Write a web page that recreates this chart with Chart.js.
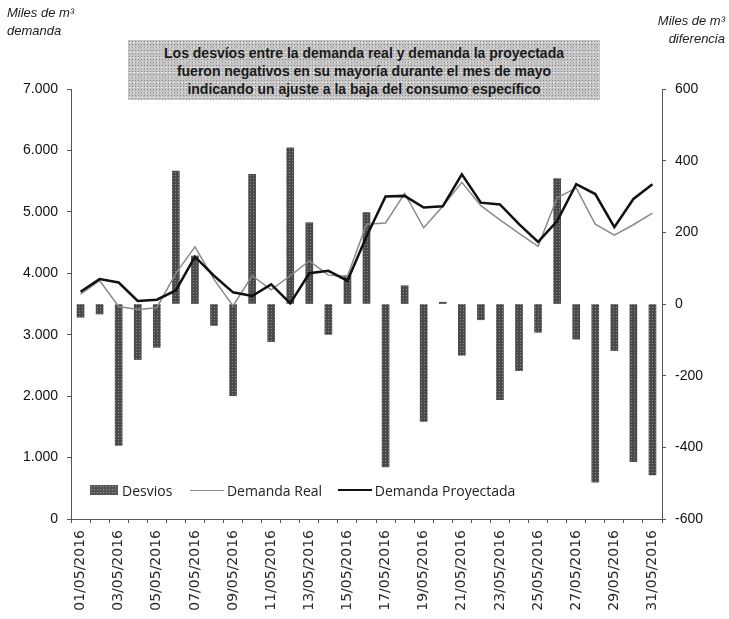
<!DOCTYPE html>
<html>
<head>
<meta charset="utf-8">
<script src="https://cdn.jsdelivr.net/npm/chart.js@4"></script>
<style>
  body { margin: 0; background: #fff; }
  #wrap { position: relative; width: 729px; height: 619px; font-family: "Liberation Sans", Arial, sans-serif; }
  #chart { position: absolute; left: 0; top: 0; }
  .ttl { position: absolute; font-style: italic; font-size: 13px; line-height: 18px; color: #222; }
  #note {
    position: absolute; left: 128px; top: 40px; width: 472px; height: 60px;
    background-color: #c4c4c4;
    background-image: radial-gradient(#8c8c8c 0.7px, transparent 0.9px), radial-gradient(#ececec 0.7px, transparent 0.9px);
    background-size: 3px 3px, 4px 5px;
    text-align: center; font-weight: bold; font-size: 14px; line-height: 18px; color: #1a1a1a;
    padding-top: 4px; box-sizing: border-box;
  }
  #legend { position: absolute; left: 90px; top: 479px; font-family: "Open Sans", sans-serif; font-size: 14px; color: #222; white-space: nowrap; }
  #legend span { display: inline-block; vertical-align: middle; }
  .sw { width: 28px; height: 10px; background: #555; background-image: radial-gradient(#999 0.8px, transparent 1px); background-size: 3px 3px; margin-right: 4px; }
  .ln { width: 34px; margin-right: 3px; }
</style>
</head>
<body>
<div id="wrap">
  <canvas id="chart" width="729" height="619"></canvas>
  <div class="ttl" style="left:7px;top:4px;">Miles de m³<br>demanda</div>
  <div class="ttl" style="right:4px;top:12px;text-align:right;">Miles de m³<br>diferencia</div>
  <div id="note">Los desvíos entre la demanda real y demanda la proyectada<br>fueron negativos en su mayoría durante el mes de mayo<br>indicando un ajuste a la baja del consumo específico</div>
  <div id="legend">
    <span class="sw"></span><span style="margin-right:14px;">Desvios</span>
    <span class="ln" style="border-top:1.5px solid #8a8a8a;"></span><span style="margin-right:12px;">Demanda Real</span>
    <span class="ln" style="border-top:2px solid #111;"></span><span>Demanda Proyectada</span>
  </div>
</div>
<script>
const dias = ["01/05/2016", "02/05/2016", "03/05/2016", "04/05/2016", "05/05/2016", "06/05/2016",
  "07/05/2016", "08/05/2016", "09/05/2016", "10/05/2016", "11/05/2016", "12/05/2016",
  "13/05/2016", "14/05/2016", "15/05/2016", "16/05/2016", "17/05/2016", "18/05/2016",
  "19/05/2016", "20/05/2016", "21/05/2016", "22/05/2016", "23/05/2016", "24/05/2016",
  "25/05/2016", "26/05/2016", "27/05/2016", "28/05/2016", "29/05/2016", "30/05/2016", "31/05/2016"];

// miles de m3 - diferencia (eje derecho)
const desvios = [-37, -28, -395, -155, -121, 371, 134, -60, -256, 362, -105, 436, 227, -85, 79, 255,
  -455, 51, -328, 5, -143, -44, -267, -186, -79, 350, -98, -497, -130, -440, -477];

// miles de m3 - demanda (eje izquierdo)
const demandaReal = [3660, 3880, 3460, 3410, 3440, 4000, 4430, 3900, 3470, 3960, 3730, 3960, 4200, 3970,
  3950, 4800, 4820, 5300, 4740, 5090, 5480, 5100, 4870, 4650, 4440, 5230, 5390, 4800, 4620, 4790, 4980];
const demandaProyectada = [3700, 3905, 3850, 3550, 3570, 3720, 4270, 3960, 3690, 3630, 3820, 3510, 4000, 4040,
  3880, 4600, 5250, 5260, 5070, 5090, 5610, 5150, 5120, 4800, 4510, 4850, 5450, 5290, 4750, 5210, 5450];

const ticksIzq = [0, 1000, 2000, 3000, 4000, 5000, 6000, 7000];
const ticksDer = [-600, -400, -200, 0, 200, 400, 600];

// speckled grey fill for the bars
const pc = document.createElement("canvas");
pc.width = 3; pc.height = 3;
const pctx = pc.getContext("2d");
pctx.fillStyle = "#4a4a4a"; pctx.fillRect(0, 0, 3, 3);
pctx.fillStyle = "#8a8a8a"; pctx.fillRect(1, 1, 1, 1);
const barFill = pctx.createPattern(pc, "repeat");

const miles = v => String(v).replace(/\B(?=(\d{3})+(?!\d))/g, ".");

document.addEventListener("DOMContentLoaded", () => {
  const ctx = document.getElementById("chart");
  new Chart(ctx, {
    type: "bar",
    data: {
      labels: dias,
      datasets: [
        {
          type: "line", label: "Demanda Proyectada", data: demandaProyectada, yAxisID: "y",
          borderColor: "#111", borderWidth: 2.5, pointRadius: 0, tension: 0, order: 1,
        },
        {
          type: "line", label: "Demanda Real", data: demandaReal, yAxisID: "y",
          borderColor: "#8a8a8a", borderWidth: 1.5, pointRadius: 0, tension: 0, order: 2,
        },
        {
          type: "bar", label: "Desvios", data: desvios, yAxisID: "y1",
          backgroundColor: barFill, barThickness: 7, order: 3,
        },
      ],
    },
    options: {
      responsive: false,
      animation: false,
      layout: { padding: { top: 89 } },
      plugins: { legend: { display: false }, tooltip: { enabled: false } },
      scales: {
        x: {
          grid: { display: true, drawOnChartArea: false, tickLength: 4, color: "#555" },
          border: { display: true, dash: [2, 2], color: "#555" },
          ticks: {
            autoSkip: false, maxRotation: 90, minRotation: 90, padding: 7, color: "#2a2a2a",
            font: { family: "DejaVu Sans", size: 14 },
            callback: (v, i) => (i % 2 === 0 ? dias[i] : ""),
          },
          afterFit: s => { s.height = 100; },
        },
        y: {
          position: "left", min: 0, max: 7000,
          afterBuildTicks: s => { s.ticks = ticksIzq.map(v => ({ value: v })); },
          grid: { display: true, drawOnChartArea: false, tickLength: 4, color: "#555" },
          border: { display: true, dash: [2, 2], color: "#555" },
          ticks: { padding: 9, color: "#111", font: { family: "Liberation Sans", size: 14 }, callback: v => miles(v) },
          afterFit: s => { s.width = 71; },
        },
        y1: {
          position: "right", min: -600, max: 600,
          afterBuildTicks: s => { s.ticks = ticksDer.map(v => ({ value: v })); },
          grid: { display: true, drawOnChartArea: false, tickLength: 4, color: "#555" },
          border: { display: true, dash: [2, 2], color: "#555" },
          ticks: { padding: 9, color: "#111", font: { family: "Liberation Sans", size: 14 } },
          afterFit: s => { s.width = 67; },
        },
      },
    },
  });
});
</script>
</body>
</html>
